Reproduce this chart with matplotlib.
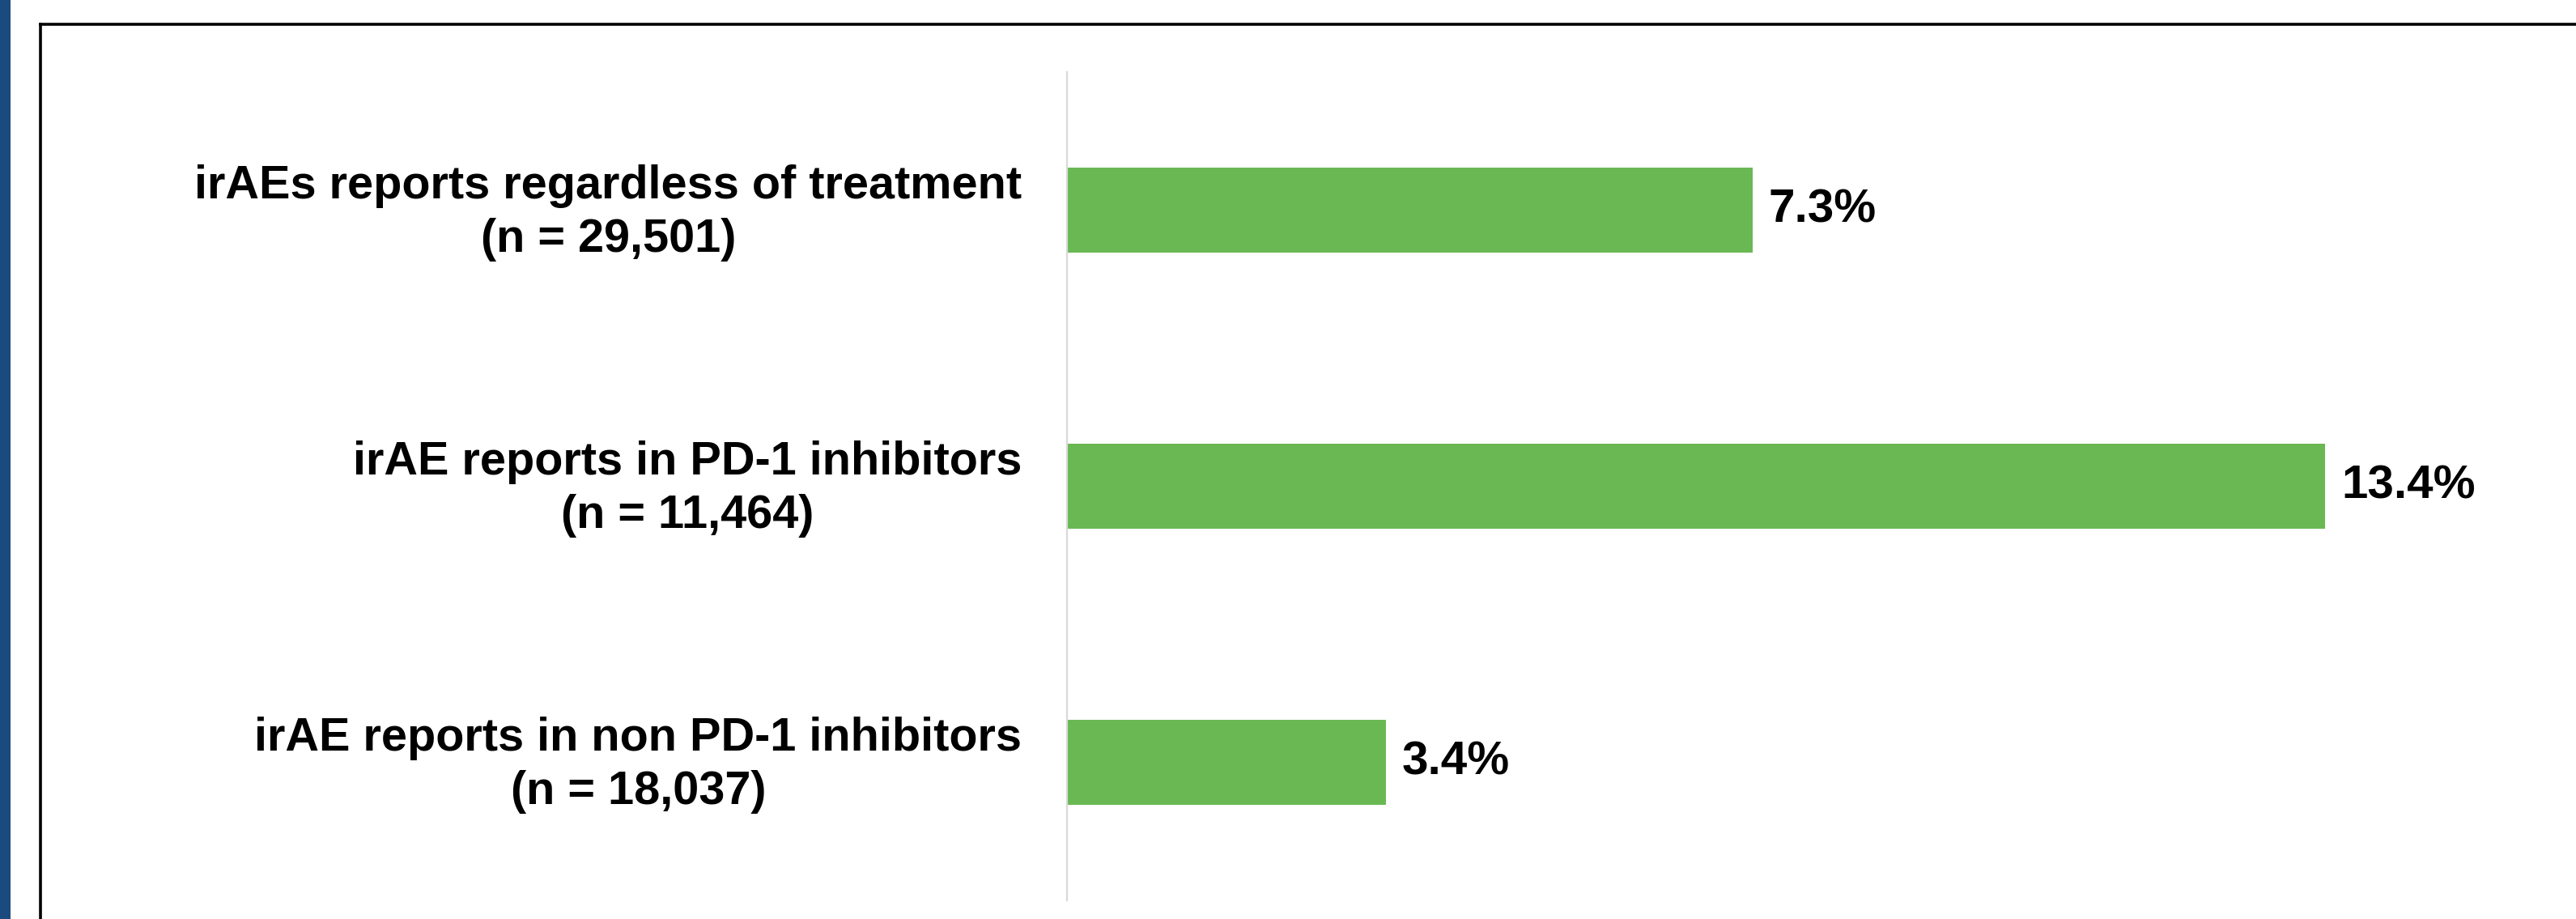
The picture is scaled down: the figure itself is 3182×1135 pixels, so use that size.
import matplotlib
matplotlib.use("Agg")
import matplotlib.pyplot as plt
from matplotlib.lines import Line2D
from matplotlib.patches import Rectangle
from matplotlib.transforms import ScaledTranslation

categories = [
    "irAEs reports regardless of treatment\n(n = 29,501)",
    "irAE reports in PD-1 inhibitors\n(n = 11,464)",
    "irAE reports in non PD-1 inhibitors\n(n = 18,037)",
]
values = [7.3, 13.4, 3.4]
value_labels = ["7.3%", "13.4%", "3.4%"]

plt.rcParams['font.family'] = ['Liberation Sans', 'DejaVu Sans']

W, H = 3182, 1135
fig = plt.figure(figsize=(W / 100, H / 100), dpi=100)

# decorative blue strip and frame
fig.patches.append(Rectangle((0, 0), 13 / W, 1, transform=fig.transFigure,
                             facecolor="#1B4A7E", edgecolor="none", zorder=0))
fig.lines.append(Line2D([49.5 / W, 49.5 / W], [0, 1 - 29.5 / H], transform=fig.transFigure,
                        color="black", lw=2.6, solid_capstyle="projecting"))
fig.lines.append(Line2D([49.5 / W, 1], [1 - 29.5 / H, 1 - 29.5 / H], transform=fig.transFigure,
                        color="black", lw=2.6, solid_capstyle="projecting"))

left = 1318 / W
right = 3130 / W
bottom = 1 - 1112 / H
top = 1 - 89 / H
ax = fig.add_axes([left, bottom, right - left, top - bottom])

ypos = list(range(len(categories)))
ax.barh(ypos, values, height=0.31, color="#6AB853", edgecolor="none")
ax.set_ylim(len(categories) - 0.5, -0.5)
ax.set_xlim(0, 15.62)

for y, v, lab in zip(ypos, values, value_labels):
    ax.annotate(lab, (v, y), xytext=(14, 0), textcoords="offset points",
                ha="left", va="center", fontsize=42, fontweight="bold", color="black")

ax.set_yticks(ypos)
ax.set_yticklabels(categories, fontsize=41.5, fontweight="bold", ha="right",
                   multialignment="center", linespacing=1.3)
ax.tick_params(axis="y", length=0, pad=40)
shift = ScaledTranslation(0, 9 / 100, fig.dpi_scale_trans)
for t in ax.get_yticklabels():
    t.set_transform(t.get_transform() + shift)
ax.set_xticks([])
for s in ["top", "right", "bottom"]:
    ax.spines[s].set_visible(False)
ax.spines["left"].set_color("#D9D9D9")
ax.spines["left"].set_linewidth(1.6)

fig.savefig("out.png", dpi=100, facecolor="white")
